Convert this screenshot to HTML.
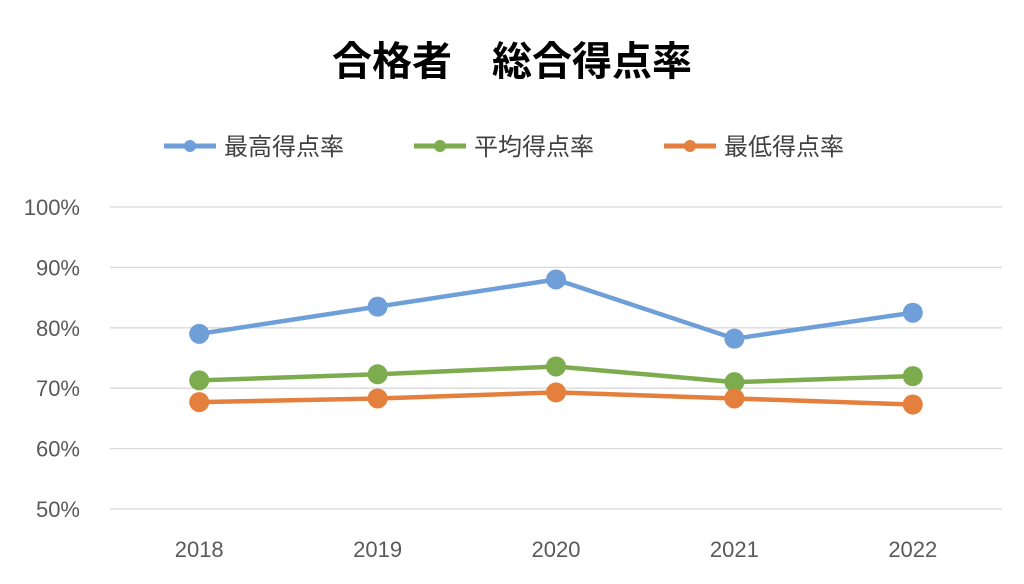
<!DOCTYPE html>
<html><head><meta charset="utf-8">
<style>
body{margin:0;background:#fff;width:1024px;height:579px;overflow:hidden;font-family:"Liberation Sans","Noto Sans CJK JP",sans-serif;}
svg text{font-family:"Liberation Sans","Noto Sans CJK JP",sans-serif;}
</style></head>
<body>
<svg id="chart" width="1024" height="579" xmlns="http://www.w3.org/2000/svg">
<text x="512" y="75" text-anchor="middle" font-size="40" font-weight="bold" fill="#000">合格者　総合得点率</text>
<g>
 <g><line x1="164" y1="146" x2="216" y2="146" stroke="#6f9fd8" stroke-width="5"/><circle cx="190" cy="146" r="6" fill="#6f9fd8"/><text x="224" y="155" font-size="24" fill="#404040">最高得点率</text></g>
 <g><line x1="414" y1="146" x2="466" y2="146" stroke="#7cac4e" stroke-width="5"/><circle cx="440" cy="146" r="6" fill="#7cac4e"/><text x="474" y="155" font-size="24" fill="#404040">平均得点率</text></g>
 <g><line x1="664" y1="146" x2="716" y2="146" stroke="#e47f3d" stroke-width="5"/><circle cx="690" cy="146" r="6" fill="#e47f3d"/><text x="724" y="155" font-size="24" fill="#404040">最低得点率</text></g>
</g>
<g id="grid"></g><g id="yticks"></g><g id="xticks"></g><g id="series"></g>
</svg>
<script>
const categories=["2018","2019","2020","2021","2022"];
const maxRate=[79.0,83.5,88.0,78.2,82.5];
const avgRate=[71.3,72.3,73.6,71.0,72.0];
const minRate=[67.7,68.3,69.3,68.3,67.3];
const yTicks=[50,60,70,80,90,100];
const NS="http://www.w3.org/2000/svg";
const x0=110,x1=1002,y50=509,y100=207;
function xPos(i){return x0+(x1-x0)/categories.length*(i+0.5);}
function yPos(v){return y50-(v-50)/50*(y50-y100);}
function mk(tag,attrs,parent){const e=document.createElementNS(NS,tag);for(const k in attrs)e.setAttribute(k,attrs[k]);parent.appendChild(e);return e;}
const grid=document.getElementById('grid'),yt=document.getElementById('yticks'),xt=document.getElementById('xticks'),ser=document.getElementById('series');
yTicks.forEach(v=>{
 const l=mk('line',{x1:x0,x2:x1,y1:yPos(v),y2:yPos(v),stroke:'#d9d9d9','stroke-width':1.3},grid);
 
 
 const t=mk('text',{x:80,y:yPos(v)+8,'text-anchor':'end','font-size':22,fill:'#595959'},yt);
 t.textContent=v+'%';
 
 
});
categories.forEach((c,i)=>{
 const t=mk('text',{x:xPos(i),y:557,'text-anchor':'middle','font-size':22,fill:'#595959'},xt);
 t.textContent=c;
 
 
});
[[maxRate,'#6f9fd8','max'],[avgRate,'#7cac4e','avg'],[minRate,'#e47f3d','min']].forEach(([d,col,n])=>{
 const g=mk('g',{},ser);
 
 
 const p=mk('polyline',{points:d.map((v,i)=>xPos(i)+','+yPos(v)).join(' '),fill:'none',stroke:col,'stroke-width':4.5,'stroke-linejoin':'round'},g);
 
 
 d.forEach((v,i)=>{
  const cc=mk('circle',{cx:xPos(i),cy:yPos(v),r:10,fill:col},g);
  
  
 });
});
</script>
</body></html>
